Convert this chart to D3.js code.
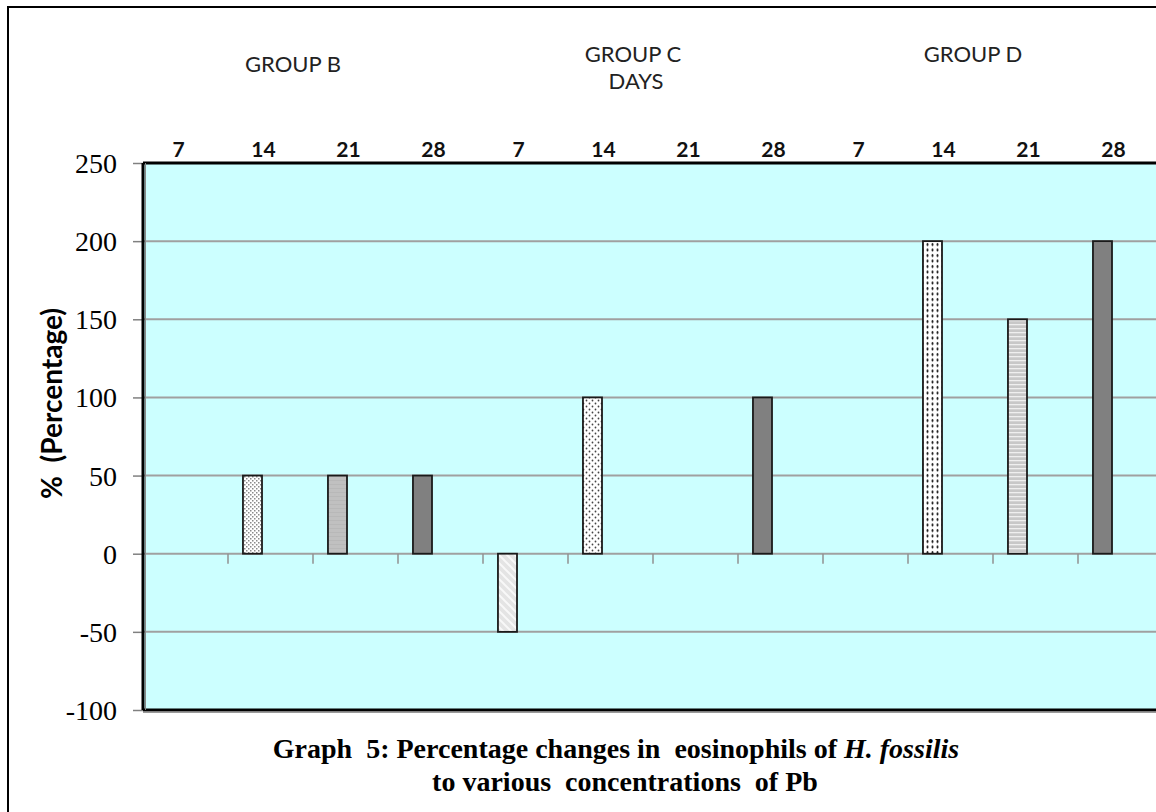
<!DOCTYPE html>
<html><head><meta charset="utf-8">
<script src="https://cdn.jsdelivr.net/npm/d3@7"></script>
<style>html,body{margin:0;padding:0;background:#fff;} svg{display:block;} text{white-space:pre;}</style>
</head><body>
<svg id="chart" width="1156" height="812"></svg>
<script>
const groups = ["GROUP B", "GROUP C", "GROUP D"];
const days = ["7", "14", "21", "28"];
const valuesB = [0, 50, 50, 50];
const valuesC = [-50, 100, 0, 100];
const valuesD = [0, 200, 150, 200];
const fills = ["none", "pFine", "pLight", "pDark", "pDiag", "pDots", "none", "pDark", "none", "pBigDots", "pHoriz", "pDark"];
const yTicks = [-100, -50, 0, 50, 100, 150, 200, 250];

const allValues = [...valuesB, ...valuesC, ...valuesD];
const cats = allValues.map((v, i) => ({i, group: Math.floor(i / 4), day: days[i % 4], v, fill: fills[i]}));

const svg = d3.select("#chart");
const L = 143, R = 1163, T = 163, B = 710;

const x = d3.scaleBand().domain(cats.map(d => d.i)).range([L, R]).padding(0);
const y = d3.scaleLinear().domain([-100, 250]).range([B, T]);

// patterns
const defs = svg.append("defs");
function pat(id, w, h, bg, draw) {
  const p = defs.append("pattern").attr("id", id).attr("patternUnits", "userSpaceOnUse").attr("width", w).attr("height", h);
  p.append("rect").attr("width", w).attr("height", h).attr("fill", bg);
  draw(p);
}
pat("pFine", 4, 4, "#ffffff", p => {
  p.append("rect").attr("x", 0).attr("y", 0).attr("width", 1.5).attr("height", 1.5).attr("fill", "#8a8a8a");
  p.append("rect").attr("x", 2).attr("y", 2).attr("width", 1.5).attr("height", 1.5).attr("fill", "#8a8a8a");
});
pat("pLight", 4, 4, "#c0c0c0", p => {
  p.append("rect").attr("x", 0).attr("y", 0).attr("width", 4).attr("height", 1).attr("fill", "#b8b8b8");
});
pat("pDark", 4, 4, "#808080", p => {});
pat("pDiag", 8, 8, "#e4e4e4", p => {
  p.append("path").attr("d", "M0,0 L8,8 M-4,4 L4,12 M4,-4 L12,4").attr("stroke", "#f8f8f8").attr("stroke-width", 2);
});
pat("pDots", 6, 6, "#ffffff", p => {
  p.append("circle").attr("cx", 1.5).attr("cy", 1.5).attr("r", 0.9).attr("fill", "#444");
  p.append("circle").attr("cx", 4.5).attr("cy", 4.5).attr("r", 0.9).attr("fill", "#444");
});
pat("pBigDots", 5, 5.5, "#ffffff", p => {
  p.append("ellipse").attr("cx", 2.5).attr("cy", 2.5).attr("rx", 1).attr("ry", 1.6).attr("fill", "#222");
});
pat("pHoriz", 4, 4, "#c8c8c8", p => {
  p.append("rect").attr("x", 0).attr("y", 0).attr("width", 4).attr("height", 1.3).attr("fill", "#efefef");
});

// outer frame
svg.append("rect").attr("x", 8).attr("y", 7).attr("width", 1300).attr("height", 1000)
  .attr("fill", "none").attr("stroke", "#000").attr("stroke-width", 2);

// plot area
svg.append("rect").attr("x", L).attr("y", T).attr("width", R - L).attr("height", B - T).attr("fill", "#ccffff");

// gridlines
svg.append("g").selectAll("line").data(yTicks.filter(t => t > -100 && t < 250)).join("line")
  .attr("x1", L).attr("x2", R).attr("y1", d => y(d)).attr("y2", d => y(d))
  .attr("stroke", "#a0a0a0").attr("stroke-width", 2);

// y axis
const yAxis = d3.axisLeft(y).tickValues(yTicks).tickSize(10).tickPadding(16).tickFormat(d => String(d));
const gy = svg.append("g").attr("transform", `translate(${L},0)`).call(yAxis);
gy.select(".domain").remove();
gy.selectAll(".tick line").attr("stroke", "#808080").attr("stroke-width", 1.5);
gy.selectAll(".tick text").attr("font-family", "'Liberation Serif', 'Times New Roman', serif")
  .attr("font-size", 28).attr("fill", "#000").attr("dy", "0.34em");

// x ticks at zero line
const xTickG = svg.append("g");
xTickG.selectAll("line").data(cats.slice(1)).join("line")
  .attr("x1", d => x(d.i)).attr("x2", d => x(d.i))
  .attr("y1", y(0)).attr("y2", y(0) + 10)
  .attr("stroke", "#909090").attr("stroke-width", 1.5);

// bars
const bw = x.bandwidth();
svg.append("g").selectAll("rect").data(cats.filter(d => d.v !== 0)).join("rect")
  .attr("x", d => x(d.i) + bw * 0.176)
  .attr("width", bw * 0.224)
  .attr("y", d => y(Math.max(0, d.v)))
  .attr("height", d => Math.abs(y(d.v) - y(0)))
  .attr("fill", d => `url(#${d.fill})`)
  .attr("stroke", "#1a1a1a").attr("stroke-width", 1.8);

// plot borders
svg.append("line").attr("x1", L).attr("x2", R).attr("y1", T).attr("y2", T).attr("stroke", "#000").attr("stroke-width", 3);
svg.append("line").attr("x1", L).attr("x2", R).attr("y1", B).attr("y2", B).attr("stroke", "#000").attr("stroke-width", 3);
svg.append("line").attr("x1", L).attr("x2", R).attr("y1", B + 2.5).attr("y2", B + 2.5).attr("stroke", "#999").attr("stroke-width", 1);
svg.append("line").attr("x1", L).attr("x2", L).attr("y1", T).attr("y2", B).attr("stroke", "#000").attr("stroke-width", 3);
svg.append("line").attr("x1", L + 2.5).attr("x2", L + 2.5).attr("y1", T).attr("y2", B).attr("stroke", "#888").attr("stroke-width", 1);

// day labels on top
svg.append("g").selectAll("text").data(cats).join("text")
  .attr("x", d => x(d.i) + bw / 2 - 7)
  .attr("y", 157)
  .attr("text-anchor", "middle")
  .attr("font-family", "Lato, 'Open Sans', sans-serif")
  .attr("font-weight", "bold").attr("font-size", 21).attr("fill", "#111")
  .text(d => d.day);

// group labels
const groupLbl = svg.append("g");
groups.forEach((g, gi) => {
  const cx = (x(gi * 4) + x(gi * 4 + 3) + bw) / 2 - 20;
  const yy = [72, 62, 62][gi];
  const t = groupLbl.append("text").attr("text-anchor", "middle")
    .attr("font-family", "Lato, 'Open Sans', sans-serif").attr("font-size", 22).attr("fill", "#222");
  t.append("tspan").attr("x", cx).attr("y", yy).text(g);
  if (gi === 1) {
    t.append("tspan").attr("x", cx + 3).attr("y", 89).text("DAYS");
  }
});

// y title
svg.append("text").attr("transform", `translate(62,${(y(250) + y(-100)) / 2}) rotate(-90)`)
  .attr("text-anchor", "middle")
  .attr("font-family", "Lato, 'Open Sans', sans-serif").attr("font-weight", "bold").attr("font-size", 28)
  .attr("fill", "#000")
  .attr("dx", 33)
  .text("%  (Percentage)");

// caption
const cap = svg.append("text").attr("text-anchor", "middle")
  .attr("font-family", "'Liberation Serif', 'Times New Roman', serif").attr("font-weight", "bold").attr("font-size", 28).attr("fill", "#000");
const l1 = cap.append("tspan").attr("x", 616).attr("y", 758);
l1.append("tspan").text("Graph  5: Percentage changes in  eosinophils of ");
l1.append("tspan").attr("font-style", "italic").text("H. fossilis");
cap.append("tspan").attr("x", 625).attr("y", 791).text("to various  concentrations  of Pb");
</script>
</body></html>
